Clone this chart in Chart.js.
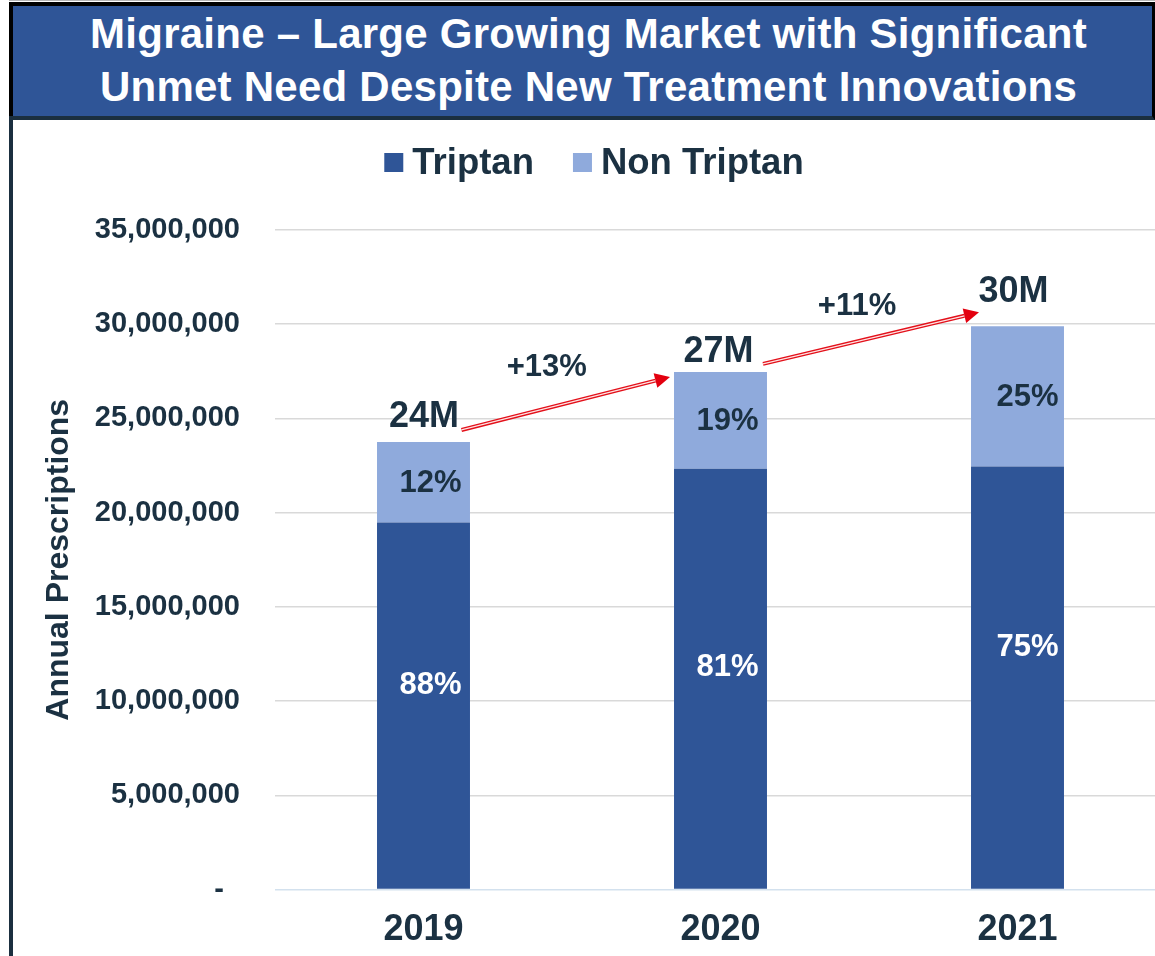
<!DOCTYPE html>
<html>
<head>
<meta charset="utf-8">
<script src="https://cdn.jsdelivr.net/npm/chart.js@4/dist/chart.umd.min.js"></script>
<style>
html,body{margin:0;padding:0;background:#fff;width:1155px;height:956px;overflow:hidden;}
#wrap{position:absolute;left:0;top:0;width:1166px;height:956px;}
#topline{position:absolute;left:9px;top:0;width:1146px;height:1px;background:#b5b5b5;}
#banner{position:absolute;left:9px;top:2px;width:1146px;height:118px;box-sizing:border-box;background:#2F5597;
  border-top:4px solid #000;border-left:4px solid #000;border-right:3px solid #000;border-bottom:4px solid #1B2F3F;
  color:#fff;font-family:"Liberation Sans",Arial,sans-serif;font-weight:bold;font-size:42px;line-height:53px;
  text-align:center;padding-top:1px;padding-left:12px;letter-spacing:0.25px;z-index:2;}
#leftline{position:absolute;left:9px;top:116px;width:4px;height:840px;background:#1B2F3F;z-index:2;}
</style>
</head>
<body>
<div id="wrap"><canvas id="c" width="1166" height="956"></canvas></div>
<div id="topline"></div>
<div id="banner">Migraine – Large Growing Market with Significant<br>Unmet Need Despite New Treatment Innovations</div>
<div id="leftline"></div>
<script>
// ---- data ----
const categories = ['2019', '2020', '2021'];
const seriesNames = ['Triptan', 'Non Triptan'];
const triptan = [19480000, 22330000, 22450000];
const nonTriptan = [4270000, 5140000, 7440000];
const yTickValues = [0, 5000000, 10000000, 15000000, 20000000, 25000000, 30000000, 35000000];
const totalLabels = ['24M', '27M', '30M'];
const triptanPct = ['88%', '81%', '75%'];
const nonTriptanPct = ['12%', '19%', '25%'];
const growthLabels = ['+13%', '+11%'];

// ---- styles ----
const TEXT = '#1B3142';
const FONT = '"Liberation Sans", Arial, sans-serif';
const C_TRIP = '#2F5597';
const C_NON = '#8FAADC';

const annotPlugin = {
  id: 'annot',
  afterDatasetsDraw(chart, args, o) {
    const ctx = chart.ctx;
    const m0 = chart.getDatasetMeta(0).data;
    const m1 = chart.getDatasetMeta(1).data;
    ctx.save();
    // legend
    ctx.font = 'bold ' + o.legendFont + 'px ' + FONT;
    ctx.textBaseline = 'middle';
    ctx.textAlign = 'left';
    const colors = [C_TRIP, C_NON];
    const widths = seriesNames.map(s => ctx.measureText(s).width);
    let total = 0;
    widths.forEach((w, i) => { total += o.box + o.boxGap + w + (i ? 0 : o.itemGap); });
    let x = o.legendCx - total / 2;
    seriesNames.forEach((s, i) => {
      ctx.fillStyle = colors[i];
      ctx.fillRect(x, o.legendCy - o.box / 2, o.box, o.box);
      x += o.box + o.boxGap;
      ctx.fillStyle = TEXT;
      ctx.fillText(s, x, o.legendCy + 1);
      x += widths[i] + o.itemGap;
    });
    // percentage labels
    ctx.textAlign = 'center';
    ctx.textBaseline = 'middle';
    ctx.font = 'bold 31px ' + FONT;
    m0.forEach((b, i) => {
      ctx.fillStyle = '#FFFFFF';
      ctx.fillText(triptanPct[i], b.x + o.pctDx[i], (b.y + b.base) / 2 + o.tripDy[i]);
    });
    m1.forEach((b, i) => {
      ctx.fillStyle = TEXT;
      ctx.fillText(nonTriptanPct[i], b.x + o.pctDx[i], (b.y + b.base) / 2 + 1);
    });
    // totals
    ctx.textBaseline = 'alphabetic';
    ctx.font = 'bold 36px ' + FONT;
    ctx.fillStyle = TEXT;
    m1.forEach((b, i) => {
      ctx.fillText(totalLabels[i], b.x + o.totDx[i], b.y + o.totDy[i]);
    });
    // arrows
    for (let i = 0; i < m1.length - 1; i++) {
      const a = m1[i], b = m1[i + 1];
      const sx = a.x + o.arr[i][0], sy = a.y + o.arr[i][1];
      const ex = b.x - b.width / 2 + o.arr[i][2], ey = b.y + o.arr[i][3];
      const ang = Math.atan2(ey - sy, ex - sx);
      const hl = 15, hw = 7.5;
      const lx = ex - Math.cos(ang) * hl, ly = ey - Math.sin(ang) * hl;
      ctx.lineCap = 'butt';
      ctx.strokeStyle = '#E3101A';
      ctx.lineWidth = 4;
      ctx.beginPath(); ctx.moveTo(sx, sy); ctx.lineTo(lx, ly); ctx.stroke();
      ctx.strokeStyle = '#FFE4E4';
      ctx.lineWidth = 1.3;
      ctx.beginPath(); ctx.moveTo(sx, sy); ctx.lineTo(lx, ly); ctx.stroke();
      ctx.fillStyle = '#E3000F';
      ctx.beginPath();
      ctx.moveTo(ex, ey);
      ctx.lineTo(lx + Math.sin(ang) * hw, ly - Math.cos(ang) * hw);
      ctx.lineTo(lx - Math.sin(ang) * hw, ly + Math.cos(ang) * hw);
      ctx.closePath(); ctx.fill();
      // growth label
      ctx.font = 'bold 31px ' + FONT;
      ctx.fillStyle = TEXT;
      ctx.textAlign = 'center';
      ctx.textBaseline = 'alphabetic';
      ctx.fillText(growthLabels[i], (sx + ex) / 2 + o.grow[i][0], (sy + ey) / 2 + o.grow[i][1]);
    }
    ctx.restore();
  }
};

Chart.defaults.font.family = FONT;
Chart.defaults.color = TEXT;

new Chart(document.getElementById('c'), {
  type: 'bar',
  data: {
    labels: categories,
    datasets: [
      { label: seriesNames[0], data: triptan, backgroundColor: C_TRIP, borderWidth: 0 },
      { label: seriesNames[1], data: nonTriptan, backgroundColor: C_NON, borderWidth: 0 }
    ]
  },
  options: {
    responsive: false,
    devicePixelRatio: 1,
    animation: false,
    events: [],
    layout: { padding: { left: 13, top: 230, right: 0, bottom: 0 } },
    datasets: { bar: { barPercentage: 0.313, categoryPercentage: 1 } },
    scales: {
      x: {
        stacked: true,
        grid: { display: false, drawTicks: false },
        border: { display: false },
        ticks: { font: { size: 36, weight: 'bold' }, color: TEXT, padding: 19 },
        afterFit: s => { s.height = 66.5; }
      },
      y: {
        stacked: true,
        min: 0, max: 35000000,
        afterBuildTicks: s => { s.ticks = yTickValues.map(v => ({ value: v })); },
        grid: {
          drawTicks: false,
          lineWidth: 1.5,
          color: c => (c.tick && c.tick.value === 0) ? '#D3E1EE' : '#D9D9D9'
        },
        border: { display: false },
        ticks: {
          font: { size: 29, weight: 'bold' }, color: TEXT, padding: 35,
          callback: v => v === 0 ? '-  ' : Number(v).toLocaleString('en-US')
        },
        title: {
          display: true, text: 'Annual Prescriptions', color: TEXT,
          font: { size: 32, weight: 'bold' }, padding: { top: 27, bottom: 0 }
        },
        afterFit: s => { s.width = 262; }
      }
    },
    plugins: {
      legend: { display: false },
      tooltip: { enabled: false },
      annot: {
        legendFont: 36.5, legendCx: 594, legendCy: 162.5, box: 19, boxGap: 9, itemGap: 39,
        pctDx: [7, 7, 10],
        tripDy: [-20, -11, -30],
        totDx: [0.5, -2, -4],
        totDy: [-15, -10, -24],
        arr: [[38, -12, -4, 5], [42.5, -8, 8, -14]],
        grow: [[-19, -27], [-14, -23.5]]
      }
    }
  },
  plugins: [annotPlugin]
});
</script>
</body>
</html>
